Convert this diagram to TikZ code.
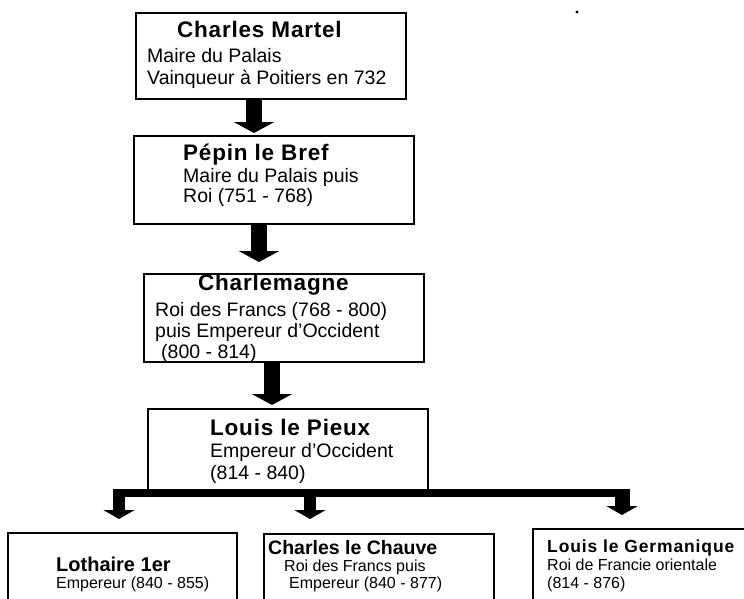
\documentclass[tikz,border=0pt]{standalone}
\usepackage{fontspec}
\setmainfont{Liberation Sans}
\newfontfamily\spaced[LetterSpace=3.5]{Liberation Sans}
\newfontfamily\wide[LetterSpace=5]{Liberation Sans}
\usetikzlibrary{arrows.meta}
\tikzset{
  box/.style={draw=black, line width=1.6pt, rectangle, inner sep=0pt, anchor=north west},
  ttl/.style={anchor=base west, inner sep=0pt, font=\fontsize{22.5}{22}\spaced\bfseries},
  txt/.style={anchor=base west, inner sep=0pt, font=\fontsize{19.5}{21}\selectfont},
  sttl/.style={anchor=base west, inner sep=0pt, font=\fontsize{19.5}{20}\selectfont\bfseries},
  stxt/.style={anchor=base west, inner sep=0pt, font=\fontsize{16}{18}\selectfont},
  blk/.style={line width=16pt, -{Triangle[width=40pt,length=11pt]}},
  sblk/.style={line width=12pt, -{Triangle[width=31pt,length=9pt]}},
}
\begin{document}
\begin{tikzpicture}[x=1pt,y=-1pt]
\useasboundingbox (0,0) rectangle (744,598);
% boxes
\node[box, minimum width=270pt, minimum height=86pt] (cm) at (135,12) {};
\node[box, minimum width=280pt, minimum height=88pt] (pb) at (133,135) {};
\node[box, minimum width=280pt, minimum height=88pt] (ch) at (143,273) {};
\node[box, minimum width=280pt, minimum height=81pt] (lp) at (147,408) {};
\node[box, minimum width=229pt, minimum height=90pt] (lo) at (7,532) {};
\node[box, minimum width=230pt, minimum height=90pt] (cc) at (263,533) {};
\node[box, minimum width=230pt, minimum height=95pt] (lg) at (532,528) {};
% texts
\node[ttl] (cmt) at (177,37) {Charles Martel};
\node[txt] (cm1) at (147,62) {Maire du Palais};
\node[txt] (cm2) at (147,84) {Vainqueur à Poitiers en 732};
\node[ttl] (pbt) at (183,160) {Pépin le Bref};
\node[txt] (pb1) at (183,182) {Maire du Palais puis};
\node[txt] (pb2) at (183,202) {Roi (751 - 768)};
\node[ttl] (cht) at (198,290) {Charlemagne};
\node[txt] (ch1) at (155,316) {Roi des Francs (768 - 800)};
\node[txt] (ch2) at (155,337) {puis Empereur d’Occident};
\node[txt] (ch3) at (161,358) {(800 - 814)};
\node[ttl] (lpt) at (210,435) {Louis le Pieux};
\node[txt] (lp1) at (210,457) {Empereur d’Occident};
\node[txt] (lp2) at (210,479) {(814 - 840)};
\node[anchor=base west, inner sep=0pt, font=\fontsize{20}{20}\selectfont\bfseries] (lot) at (56,571) {Lothaire 1er};
\node[stxt] (lo1) at (56,588) {Empereur (840 - 855)};
\node[sttl] (cct) at (268,554) {Charles le Chauve};
\node[stxt] (cc1) at (284,571) {Roi des Francs puis};
\node[stxt] (cc2) at (289,588) {Empereur (840 - 877)};
\node[anchor=base west, inner sep=0pt, font=\fontsize{17.5}{18}\wide\bfseries] (lgt) at (547,552) {Louis le Germanique};
\node[stxt] (lg1) at (547,570) {Roi de Francie orientale};
\node[stxt] (lg2) at (547,588) {(814 - 876)};
% arrows
\coordinate (t1) at (254,133);
\coordinate (t2) at (259,262);
\coordinate (t3) at (272,405);
\draw[blk] (cm.south -| t1) -- (t1);
\draw[blk] (pb.south -| t2) -- (t2);
\draw[blk] (ch.south -| t3) -- (t3);
% tree connector
\coordinate (bl) at (113,493);
\coordinate (br) at (630,493);
\draw[line width=8pt] (bl) -- (br);
\coordinate (d1) at (119,519);
\coordinate (d2) at (310,519);
\coordinate (d3) at (622,515);
\draw[sblk] (d1 |- lp.south) -- (d1);
\draw[sblk] (d2 |- lp.south) -- (d2);
\draw[line width=15pt, -{Triangle[width=31pt,length=9pt]}] (d3 |- lp.south) -- (d3);
% dot
\fill (577,12) circle (1.6pt);
\end{tikzpicture}
\end{document}
